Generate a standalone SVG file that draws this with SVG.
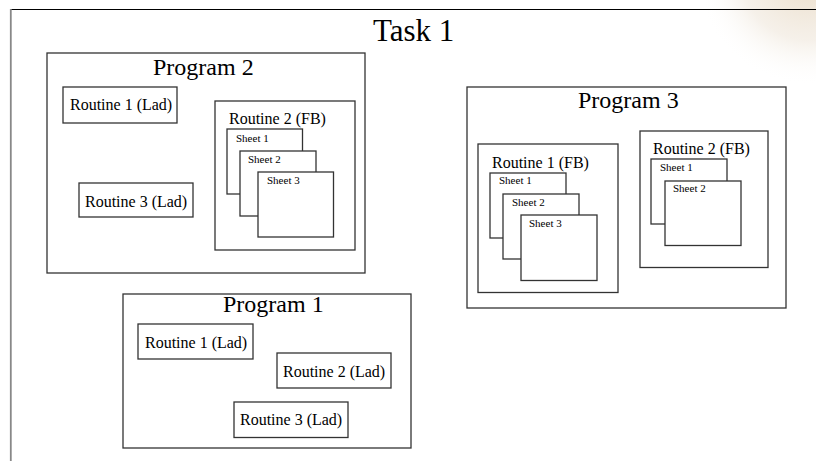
<svg xmlns="http://www.w3.org/2000/svg" width="816" height="461" viewBox="0 0 816 461">
<style>
.box{fill:#fff;stroke:#333;stroke-width:1.3}
.t{font-family:"Liberation Serif","Times New Roman",serif;fill:#000}
.big{font-size:31px}
.prog{font-size:24px}
.rt{font-size:16px}
.sh{font-size:11px}
</style>
<defs>
<radialGradient id="glow" cx="0.55" cy="0.3" r="0.6">
<stop offset="0" stop-color="#e2ceb0" stop-opacity="0.75"/>
<stop offset="0.6" stop-color="#ece2d4" stop-opacity="0.5"/>
<stop offset="1" stop-color="#ffffff" stop-opacity="0"/>
</radialGradient>
</defs>
<rect width="816" height="461" fill="#fff"/>
<ellipse cx="800" cy="10" rx="95" ry="95" fill="url(#glow)"/>
<g id="task1">
<line x1="10" y1="9.5" x2="816" y2="9.5" stroke="#000" stroke-width="1.2"/>
<line x1="10.8" y1="9" x2="10.8" y2="461" stroke="#888" stroke-width="1.8"/>
<text class="t big" x="373" y="41">Task 1</text>
</g>
<g id="program2">
<rect class="box" x="47" y="53" width="318" height="220"/>
<text class="t prog" x="153" y="75">Program 2</text>
<g id="p2-routine1">
<rect class="box" x="63" y="87" width="114" height="36"/>
<text class="t rt" x="70" y="110">Routine 1 (Lad)</text>
</g>
<g id="p2-routine3">
<rect class="box" x="79" y="183" width="114" height="34"/>
<text class="t rt" x="85" y="207">Routine 3 (Lad)</text>
</g>
<g id="p2-routine2">
<rect class="box" x="215" y="101" width="140" height="149"/>
<text class="t rt" x="229" y="124">Routine 2 (FB)</text>
<rect class="box" x="227" y="129" width="75.5" height="65"/>
<text class="t sh" x="236" y="142">Sheet 1</text>
<rect class="box" x="240" y="151" width="76" height="65"/>
<text class="t sh" x="248" y="163">Sheet 2</text>
<rect class="box" x="258" y="172" width="75.5" height="65"/>
<text class="t sh" x="267" y="184">Sheet 3</text>
</g>
</g>
<g id="program3">
<rect class="box" x="467" y="87" width="319" height="221"/>
<text class="t prog" x="578" y="108">Program 3</text>
<g id="p3-routine1">
<rect class="box" x="478" y="144" width="140" height="148.5"/>
<text class="t rt" x="492" y="168">Routine 1 (FB)</text>
<rect class="box" x="490" y="173" width="76" height="65"/>
<text class="t sh" x="499" y="184">Sheet 1</text>
<rect class="box" x="503" y="194" width="76" height="65"/>
<text class="t sh" x="512" y="206">Sheet 2</text>
<rect class="box" x="521" y="215" width="76" height="65.5"/>
<text class="t sh" x="529" y="227">Sheet 3</text>
</g>
<g id="p3-routine2">
<rect class="box" x="640" y="131" width="128" height="136.5"/>
<text class="t rt" x="653" y="154">Routine 2 (FB)</text>
<rect class="box" x="651" y="159" width="76" height="65"/>
<text class="t sh" x="660" y="171">Sheet 1</text>
<rect class="box" x="665" y="181" width="76" height="64.5"/>
<text class="t sh" x="673" y="192">Sheet 2</text>
</g>
</g>
<g id="program1">
<rect class="box" x="123" y="294" width="288" height="154"/>
<text class="t prog" x="223" y="312">Program 1</text>
<g id="p1-routine1">
<rect class="box" x="138" y="324" width="115" height="35"/>
<text class="t rt" x="145" y="348">Routine 1 (Lad)</text>
</g>
<g id="p1-routine2">
<rect class="box" x="277" y="353" width="114" height="35"/>
<text class="t rt" x="283" y="377">Routine 2 (Lad)</text>
</g>
<g id="p1-routine3">
<rect class="box" x="234" y="402" width="114" height="35.5"/>
<text class="t rt" x="240" y="425">Routine 3 (Lad)</text>
</g>
</g>
<g id="connectors"/>
</svg>
